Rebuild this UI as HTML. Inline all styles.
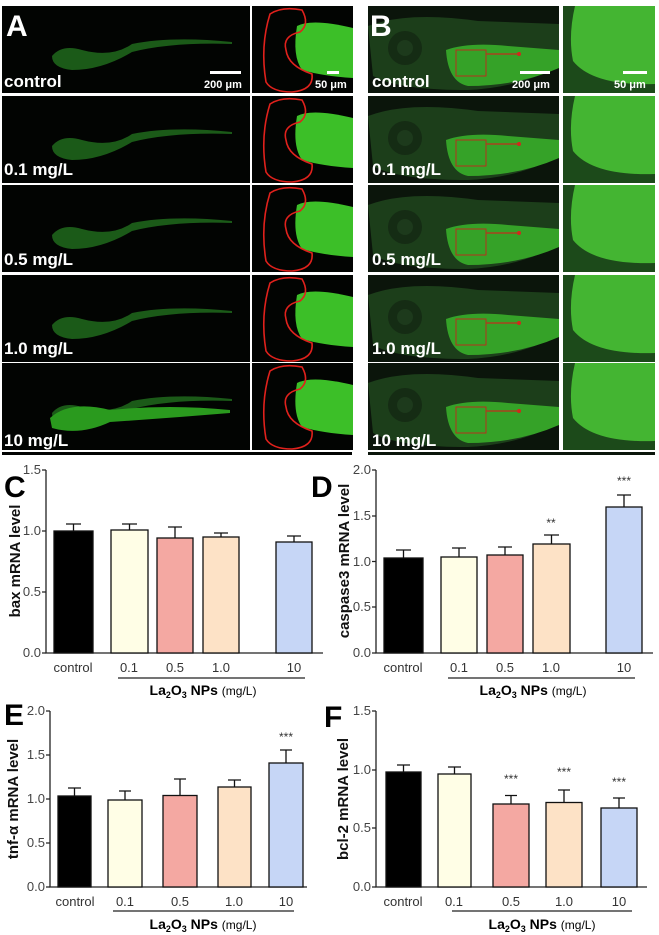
<!DOCTYPE html>
<html><head><meta charset="utf-8"><style>
html,body{margin:0;padding:0;background:#fff;}
svg{display:block;font-family:"Liberation Sans",Arial,sans-serif;}
.tk{font-size:13px;fill:#444;}
.cat{font-size:13px;fill:#333;text-anchor:middle;}
.yl{font-size:15px;font-weight:bold;fill:#111;text-anchor:middle;}
.pl{font-size:30px;font-weight:bold;fill:#000;}
.tl{font-size:17px;font-weight:bold;fill:#fff;}
.sc{font-size:11px;font-weight:bold;fill:#fff;}
</style></head><body>
<svg width="659" height="935" viewBox="0 0 659 935" xmlns="http://www.w3.org/2000/svg">
<defs>
<g id="aL">
<rect width="248" height="87" fill="#020402"/>
<path d="M50 50 Q60 38 80 44 Q110 52 130 38 Q170 30 230 36 L230 38 Q170 36 130 46 Q100 64 70 64 Q50 62 50 50Z" fill="#1b5a18"/>
</g>
<g id="aR">
<rect width="101" height="87" fill="#020402"/>
<path d="M45 20 Q60 12 101 22 L101 72 Q70 70 50 64 Q40 50 45 20Z" fill="#3cbf28"/>
<path d="M18 8 Q30 0 50 4 Q58 18 48 26 Q30 30 34 44 Q36 60 60 68 Q62 84 40 86 Q20 86 14 76 Q8 40 18 8Z" fill="none" stroke="#e0211c" stroke-width="1.6"/>
</g>
<g id="bL">
<rect width="191" height="87" fill="#0b150b"/>
<path d="M0 20 Q40 5 110 15 L191 18 L191 60 Q150 82 100 84 Q30 84 5 70Z" fill="#1c3e1a"/>
<circle cx="37" cy="42" r="17" fill="#152c14"/>
<circle cx="37" cy="42" r="8" fill="#1d3a1c"/>
<path d="M78 44 Q100 36 140 40 L191 44 L191 62 Q150 80 100 80 Q80 76 78 44Z" fill="#35a228"/>
<rect x="88" y="44" width="30" height="26" fill="none" stroke="#b8301c" stroke-width="1"/>
<line x1="118" y1="48" x2="150" y2="48" stroke="#c0301c" stroke-width="1.3"/>
<circle cx="151" cy="48" r="2" fill="#d02a1c"/>
</g>
<g id="bR">
<rect width="92" height="87" fill="#44b532"/>
<path d="M0 0 L12 0 Q5 30 10 55 Q30 80 92 78 L92 87 L0 87Z" fill="#1c4a1a"/>
</g>
</defs>
<use href="#aL" x="2" y="6"/><use href="#aR" x="252" y="6"/>
<use href="#aL" x="2" y="96"/><use href="#aR" x="252" y="96"/>
<use href="#aL" x="2" y="185"/><use href="#aR" x="252" y="185"/>
<use href="#aL" x="2" y="275"/><use href="#aR" x="252" y="275"/>
<use href="#aL" x="2" y="363"/><use href="#aR" x="252" y="363"/>
<rect x="2" y="452" width="350" height="3" fill="#020402"/>
<path d="M50 418 Q70 400 110 410 Q170 404 230 410 L230 413 Q170 418 110 422 Q80 436 52 428Z" fill="#2a9a1e"/>
<text class="pl" x="6" y="36" style="fill:#fff">A</text>
<text class="tl" x="4" y="87">control</text>
<text class="tl" x="4" y="175">0.1 mg/L</text>
<text class="tl" x="4" y="265">0.5 mg/L</text>
<text class="tl" x="4" y="354">1.0 mg/L</text>
<text class="tl" x="4" y="446">10 mg/L</text>
<rect x="210" y="71" width="31" height="3" fill="#fff"/>
<text class="sc" x="204" y="88">200 μm</text>
<rect x="327" y="71" width="12" height="3" fill="#fff"/>
<text class="sc" x="315" y="88">50 μm</text>
<use href="#bL" x="368" y="6"/><use href="#bR" x="563" y="6"/>
<use href="#bL" x="368" y="96"/><use href="#bR" x="563" y="96"/>
<use href="#bL" x="368" y="185"/><use href="#bR" x="563" y="185"/>
<use href="#bL" x="368" y="275"/><use href="#bR" x="563" y="275"/>
<use href="#bL" x="368" y="363"/><use href="#bR" x="563" y="363"/>
<rect x="368" y="452" width="287" height="3" fill="#0b150b"/>
<text class="pl" x="370" y="36" style="fill:#fff">B</text>
<text class="tl" x="372" y="87">control</text>
<text class="tl" x="372" y="175">0.1 mg/L</text>
<text class="tl" x="372" y="265">0.5 mg/L</text>
<text class="tl" x="372" y="354">1.0 mg/L</text>
<text class="tl" x="372" y="446">10 mg/L</text>
<rect x="520" y="71" width="30" height="3" fill="#fff"/>
<text class="sc" x="512" y="88">200 μm</text>
<rect x="623" y="71" width="24" height="3" fill="#fff"/>
<text class="sc" x="614" y="88">50 μm</text>

<text class="pl" x="4" y="497">C</text>
<g stroke="#222" stroke-width="1.3" fill="none">
<path d="M46 470 V653 H323"/>
<path d="M42 470H46M42 531H46M42 592H46M42 653H46"/>
<path d="M118 678H305"/>
</g>
<text class="tk" x="41" y="474" text-anchor="end">1.5</text>
<text class="tk" x="41" y="535" text-anchor="end">1.0</text>
<text class="tk" x="41" y="596" text-anchor="end">0.5</text>
<text class="tk" x="41" y="657" text-anchor="end">0.0</text>
<text class="yl" transform="translate(20 561) rotate(-90)">bax mRNA level</text>
<g stroke="#111" stroke-width="1.3">
<rect x="54" y="531" width="39" height="122" fill="#000"/>
<rect x="111" y="530" width="37" height="123" fill="#fffee6"/>
<rect x="157" y="538" width="36" height="115" fill="#f4a8a2"/>
<rect x="203" y="537" width="36" height="116" fill="#fde2c6"/>
<rect x="276" y="542" width="36" height="111" fill="#c6d6f6"/>
<path d="M73.5 531V524M66 524H81 M129.5 530V524M122 524H137 M175 538V527M168 527H182 M221 537V533M214 533H228 M294 542V536M287 536H301" fill="none"/>
</g>
<text class="cat" x="73" y="672">control</text><text class="cat" x="129" y="672">0.1</text><text class="cat" x="175" y="672">0.5</text><text class="cat" x="221" y="672">1.0</text><text class="cat" x="294" y="672">10</text>
<text x="203" y="695" text-anchor="middle" style="font-size:14px;font-weight:bold">La<tspan dy="3" font-size="9">2</tspan><tspan dy="-3">O</tspan><tspan dy="3" font-size="9">3</tspan><tspan dy="-3"> NPs </tspan><tspan font-weight="normal" font-size="12">(mg/L)</tspan></text>

<text class="pl" x="311" y="497">D</text>
<g stroke="#222" stroke-width="1.3" fill="none">
<path d="M376 470 V653 H653"/>
<path d="M372 470H376M372 516H376M372 561.5H376M372 607H376M372 653H376"/>
<path d="M448 678H635"/>
</g>
<text class="tk" x="371" y="474" text-anchor="end">2.0</text>
<text class="tk" x="371" y="520" text-anchor="end">1.5</text>
<text class="tk" x="371" y="566" text-anchor="end">1.0</text>
<text class="tk" x="371" y="611" text-anchor="end">0.5</text>
<text class="tk" x="371" y="657" text-anchor="end">0.0</text>
<text class="yl" transform="translate(349 561) rotate(-90)">caspase3 mRNA level</text>
<g stroke="#111" stroke-width="1.3">
<rect x="384" y="558" width="39" height="95" fill="#000"/>
<rect x="441" y="557" width="36" height="96" fill="#fffee6"/>
<rect x="487" y="555" width="36" height="98" fill="#f4a8a2"/>
<rect x="533" y="544" width="37" height="109" fill="#fde2c6"/>
<rect x="606" y="507" width="36" height="146" fill="#c6d6f6"/>
<path d="M403.5 558V550M396 550H411 M459 557V548M452 548H466 M505 555V547M498 547H512 M551.5 544V535M544 535H559 M624 507V495M617 495H631" fill="none"/>
</g>
<text x="551" y="527" text-anchor="middle" style="font-size:12px;fill:#333">**</text>
<text x="624" y="485" text-anchor="middle" style="font-size:12px;fill:#333">***</text>
<text class="cat" x="403" y="672">control</text><text class="cat" x="459" y="672">0.1</text><text class="cat" x="505" y="672">0.5</text><text class="cat" x="551" y="672">1.0</text><text class="cat" x="624" y="672">10</text>
<text x="533" y="695" text-anchor="middle" style="font-size:14px;font-weight:bold">La<tspan dy="3" font-size="9">2</tspan><tspan dy="-3">O</tspan><tspan dy="3" font-size="9">3</tspan><tspan dy="-3"> NPs </tspan><tspan font-weight="normal" font-size="12">(mg/L)</tspan></text>

<text class="pl" x="4" y="725">E</text>
<g stroke="#222" stroke-width="1.3" fill="none">
<path d="M50 711 V887 H307"/>
<path d="M46 711H50M46 755H50M46 799H50M46 843H50M46 887H50"/>
<path d="M113 911H294"/>
</g>
<text class="tk" x="45" y="715" text-anchor="end">2.0</text>
<text class="tk" x="45" y="759" text-anchor="end">1.5</text>
<text class="tk" x="45" y="803" text-anchor="end">1.0</text>
<text class="tk" x="45" y="847" text-anchor="end">0.5</text>
<text class="tk" x="45" y="891" text-anchor="end">0.0</text>
<text class="yl" transform="translate(18 799) rotate(-90)">tnf-α mRNA level</text>
<g stroke="#111" stroke-width="1.3">
<rect x="58" y="796" width="33" height="91" fill="#000"/>
<rect x="108" y="800" width="34" height="87" fill="#fffee6"/>
<rect x="163" y="795.5" width="34" height="91.5" fill="#f4a8a2"/>
<rect x="218" y="787" width="33" height="100" fill="#fde2c6"/>
<rect x="269" y="763" width="34" height="124" fill="#c6d6f6"/>
<path d="M74.5 796V788M68 788H81 M125 800V791M119 791H131 M180 795.5V779M174 779H186 M234.5 787V780M228 780H241 M286 763V750M280 750H292" fill="none"/>
</g>
<text x="286" y="741" text-anchor="middle" style="font-size:12px;fill:#333">***</text>
<text class="cat" x="75" y="906">control</text><text class="cat" x="125" y="906">0.1</text><text class="cat" x="180" y="906">0.5</text><text class="cat" x="234" y="906">1.0</text><text class="cat" x="286" y="906">10</text>
<text x="203" y="929" text-anchor="middle" style="font-size:14px;font-weight:bold">La<tspan dy="3" font-size="9">2</tspan><tspan dy="-3">O</tspan><tspan dy="3" font-size="9">3</tspan><tspan dy="-3"> NPs </tspan><tspan font-weight="normal" font-size="12">(mg/L)</tspan></text>

<text class="pl" x="324" y="727">F</text>
<g stroke="#222" stroke-width="1.3" fill="none">
<path d="M376 711 V887 H647"/>
<path d="M372 711H376M372 770H376M372 828H376M372 887H376"/>
<path d="M452 911H632"/>
</g>
<text class="tk" x="371" y="715" text-anchor="end">1.5</text>
<text class="tk" x="371" y="774" text-anchor="end">1.0</text>
<text class="tk" x="371" y="832" text-anchor="end">0.5</text>
<text class="tk" x="371" y="891" text-anchor="end">0.0</text>
<text class="yl" transform="translate(348 799) rotate(-90)">bcl-2  mRNA level</text>
<g stroke="#111" stroke-width="1.3">
<rect x="386" y="772" width="35" height="115" fill="#000"/>
<rect x="438" y="774" width="33" height="113" fill="#fffee6"/>
<rect x="493" y="804" width="36" height="83" fill="#f4a8a2"/>
<rect x="546" y="802.5" width="36" height="84.5" fill="#fde2c6"/>
<rect x="601" y="808" width="36" height="79" fill="#c6d6f6"/>
<path d="M403.5 772V765M397 765H410 M454.5 774V767M448 767H461 M511 804V795.5M505 795.5H517 M564 802.5V790M558 790H570 M619 808V798M613 798H625" fill="none"/>
</g>
<text x="511" y="783" text-anchor="middle" style="font-size:12px;fill:#333">***</text>
<text x="564" y="776" text-anchor="middle" style="font-size:12px;fill:#333">***</text>
<text x="619" y="786" text-anchor="middle" style="font-size:12px;fill:#333">***</text>
<text class="cat" x="403" y="906">control</text><text class="cat" x="454" y="906">0.1</text><text class="cat" x="511" y="906">0.5</text><text class="cat" x="564" y="906">1.0</text><text class="cat" x="619" y="906">10</text>
<text x="542" y="929" text-anchor="middle" style="font-size:14px;font-weight:bold">La<tspan dy="3" font-size="9">2</tspan><tspan dy="-3">O</tspan><tspan dy="3" font-size="9">3</tspan><tspan dy="-3"> NPs </tspan><tspan font-weight="normal" font-size="12">(mg/L)</tspan></text>
</svg>
</body></html>
